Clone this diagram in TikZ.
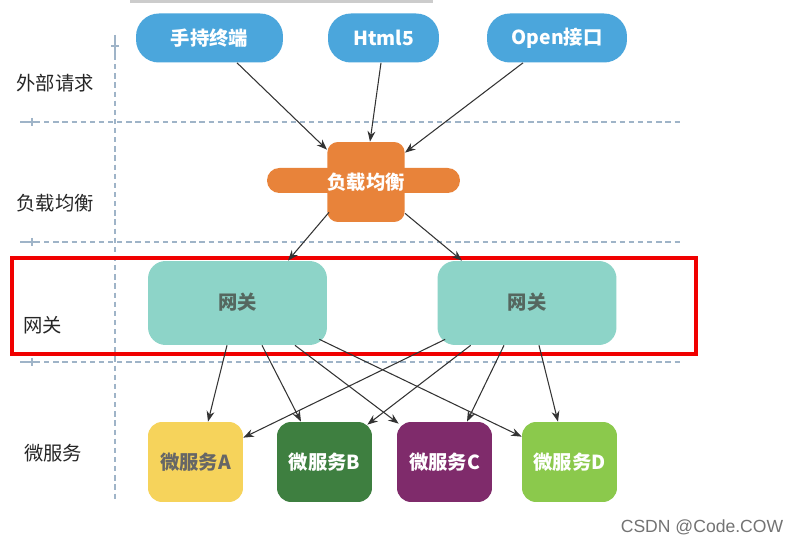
\documentclass[tikz,border=0pt]{standalone}
\usepackage{fontspec}
\setmainfont{Noto Sans CJK SC}
\newfontfamily\markfont{Liberation Sans}
\usepackage{tikz}
\usetikzlibrary{arrows.meta, positioning, calc}
\usepackage{xcolor}
\definecolor{clientblue}{HTML}{4BA6DC}
\definecolor{lborange}{HTML}{E8833A}
\definecolor{gwteal}{HTML}{8DD4C8}
\definecolor{gwtext}{HTML}{55675F}
\definecolor{msyellow}{HTML}{F6D35B}
\definecolor{msgreen}{HTML}{3E7F40}
\definecolor{mspurple}{HTML}{7F2B6B}
\definecolor{mslime}{HTML}{8BC94C}
\definecolor{laneline}{HTML}{9FB4C8}
\definecolor{framered}{HTML}{F00000}

\begin{document}
\begin{tikzpicture}[x=0.02cm, y=-0.02cm,
    txt/.style={font=\fontsize{11}{13}\selectfont\bfseries},
    client/.style={txt, fill=clientblue, text=white, rounded corners=13pt, minimum height=0.98cm},
    gateway/.style={txt, fill=gwteal, text=gwtext, rounded corners=10pt, minimum width=3.58cm, minimum height=1.68cm},
    service/.style={txt, rounded corners=8pt, minimum width=1.9cm, minimum height=1.6cm, inner sep=1pt},
    lanelabel/.style={font=\fontsize{11}{13}\selectfont, text=black!85},
    lane/.style={laneline, line width=0.6pt, dash pattern=on 3pt off 2.2pt},
    tick/.style={laneline, line width=0.6pt},
    arr/.style={-{Stealth[length=6pt, width=4.5pt]}, black!80, line width=0.6pt}]
    % canvas
    \fill[white] (0,0) rectangle (799,543);
    \useasboundingbox (0,0) rectangle (799,543);
    \fill[black!20] (130,0) rectangle (433,3);

    % lanes
    \foreach \ly in {122, 242, 362} {
        \draw[lane] (35,\ly) -- (680,\ly);
        \draw[tick] (20,\ly) -- (35,\ly);
        \draw[tick] (32,\ly-4) -- (32,\ly+4);
    }
    \draw[lane] (115,55) -- (115,502);
    \draw[tick] (115,35) -- (115,55);
    \draw[tick] (111,46) -- (119,46);

    % lane labels
    \node[lanelabel] (lblreq) at (55,83) {外部请求};
    \node[lanelabel] (lbllb) at (55,203) {负载均衡};
    \node[lanelabel] (lblgw) at (43,325) {网关};
    \node[lanelabel] (lblms) at (53,453) {微服务};

    % clients
    \node[client, minimum width=2.94cm] (hand) at (209.5,38) {手持终端};
    \node[client, minimum width=2.22cm] (html) at (383.5,38) {Html5};
    \node[client, minimum width=2.8cm] (open) at (557,38) {Open接口};

    % load balancer
    \node[fill=lborange, rounded corners=7pt, minimum width=3.86cm, minimum height=0.5cm] (lbbar) at (363.5,180.5) {};
    \node[txt, fill=lborange, text=white, rounded corners=6pt, minimum width=1.36cm, minimum height=1.6cm, inner sep=0pt] (lb) at (366,182) {负载均衡};

    % gateways
    \node[gateway] (gwleft) at (237.5,303) {\raisebox{2pt}{网关}};
    \node[gateway] (gwright) at (527,303) {\raisebox{2pt}{网关}};
    \draw[framered, line width=2.4pt] (12,258) rectangle (696,354);

    % services
    \node[service, fill=msyellow, text=black!60] (msA) at (195.5,462) {微服务A};
    \node[service, fill=msgreen, text=white] (msB) at (324.5,462) {微服务B};
    \node[service, fill=mspurple, text=white] (msC) at (444.5,462) {微服务C};
    \node[service, fill=mslime, text=white] (msD) at (569.5,462) {微服务D};

    % requests
    \draw[arr] ($(hand.south)+(27.5,0)$) -- ($(lb.north west)+(0,8)$);
    \draw[arr] ($(html.south)+(-2.5,0)$) -- ($(lb.north)+(4,0)$);
    \draw[arr] ($(open.south)+(-34,0)$) -- ($(lb.north east)+(0,11)$);
    \draw[arr] ($(lb.south west)+(2,-10)$) -- ($(gwleft.north)+(50.5,0)$);
    \draw[arr] ($(lb.south east)+(0,-9)$) -- ($(gwright.north)+(-65,0)$);

    % routing
    \draw[arr] ($(gwleft.south)+(-10.5,0)$) -- ($(msA.north)+(12.5,0)$);
    \draw[arr] ($(gwleft.south)+(24.5,0)$) -- ($(msB.north)+(-23.5,0)$);
    \draw[arr] ($(gwleft.south)+(57.5,0)$) -- ($(msC.north west)+(2,2)$);
    \draw[arr] ($(gwleft.south east)+(-8,-6)$) -- ($(msD.north west)+(0,15)$);
    \draw[arr] ($(gwright.south west)+(8,-6)$) -- ($(msA.north east)+(0,16)$);
    \draw[arr] ($(gwright.south west)+(33.5,0)$) -- ($(msB.north east)+(-5,3)$);
    \draw[arr] ($(gwright.south)+(-23,0)$) -- ($(msC.north)+(22.5,0)$);
    \draw[arr] ($(gwright.south)+(12,0)$) -- ($(msD.north)+(-11.5,0)$);

    \node[font=\markfont\fontsize{10}{12}\selectfont, text=black!55] (mark) at (702,527) {CSDN @Code.COW};
\end{tikzpicture}
\end{document}
